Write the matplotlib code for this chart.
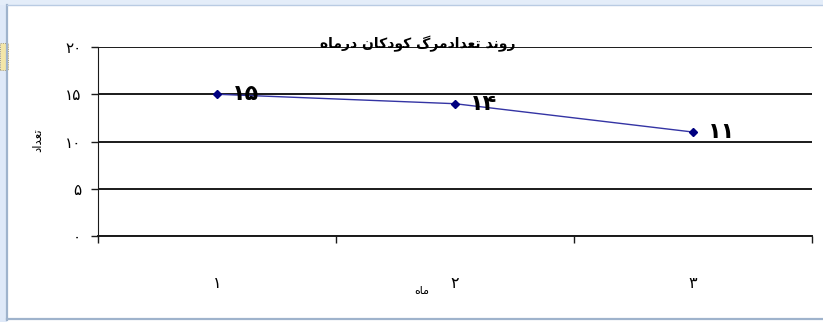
import numpy as np
import matplotlib.pyplot as plt
from matplotlib.patches import Rectangle

months = [1, 2, 3]
deaths = [15, 14, 11]
y_ticks = [0, 5, 10, 15, 20]

title = "روند تعدادمرگ کودکان درماه"
x_label = "ماه"
y_label = "تعداد"

# contextual forms: (isolated, final, initial, medial)
FORMS = {
    'ا': ('\uFE8D', '\uFE8E', None, None),
    'د': ('\uFEA9', '\uFEAA', None, None),
    'ر': ('\uFEAD', '\uFEAE', None, None),
    'و': ('\uFEED', '\uFEEE', None, None),
    'ن': ('\uFEE5', '\uFEE6', '\uFEE7', '\uFEE8'),
    'ت': ('\uFE95', '\uFE96', '\uFE97', '\uFE98'),
    'ع': ('\uFEC9', '\uFECA', '\uFECB', '\uFECC'),
    'م': ('\uFEE1', '\uFEE2', '\uFEE3', '\uFEE4'),
    'ه': ('\uFEE9', '\uFEEA', '\uFEEB', '\uFEEC'),
    'ک': ('\uFB8E', '\uFB8F', '\uFB90', '\uFB91'),
    'گ': ('\uFB92', '\uFB93', '\uFB94', '\uFB95'),
}


def shape(text):
    out = []
    for i, ch in enumerate(text):
        if ch not in FORMS:
            out.append(ch)
            continue
        iso, fin, ini, med = FORMS[ch]
        prev = text[i-1] if i > 0 else ''
        nxt = text[i+1] if i+1 < len(text) else ''
        join_prev = prev in FORMS and FORMS[prev][2] is not None
        join_next = ini is not None and nxt in FORMS
        if join_prev and join_next:
            out.append(med)
        elif join_prev:
            out.append(fin)
        elif join_next:
            out.append(ini)
        else:
            out.append(iso)
    return ''.join(reversed(out))


FA_DIGITS = str.maketrans('0123456789', '۰۱۲۳۴۵۶۷۸۹')


def fa(n):
    return str(n).translate(FA_DIGITS)


plt.rcParams['font.family'] = ['DejaVu Sans']

fig = plt.figure(figsize=(8.23, 3.22), dpi=100)
W, H = 823, 322

# chart frame
fig.patches.append(Rectangle((0, 0), 7/W, 1, transform=fig.transFigure,
                             facecolor='#dfe9f8', edgecolor='none'))
fig.patches.append(Rectangle((0, 1 - 5/H), 1, 5/H, transform=fig.transFigure,
                             facecolor='#e4edf9', edgecolor='none'))
fig.add_artist(plt.Line2D([7.5/W, 7.5/W], [2/H, 1 - 5/H], transform=fig.transFigure,
                          color='#9fb3cc', lw=1.6))
fig.add_artist(plt.Line2D([7.5/W, 1], [3/H, 3/H], transform=fig.transFigure,
                          color='#9fb3cc', lw=1.6))
fig.add_artist(plt.Line2D([7.5/W, 1], [1 - 5/H, 1 - 5/H], transform=fig.transFigure,
                          color='#b9cbe3', lw=1.0))
fig.patches.append(Rectangle((0, 1 - 70/H), 8/W, 27/H, transform=fig.transFigure,
                             facecolor='#f3e6a8', edgecolor='#8c8060', lw=0.6, ls=':'))

ax = fig.add_axes([98/W, 1 - 236/H, 714/W, 189/H])

ax.plot(months, deaths, color='#3434a4', lw=1.0, zorder=3)
ax.plot(months, deaths, ls='none', marker='D', ms=4.5, color='#000080', zorder=4)
for m, d in zip(months, deaths):
    ax.annotate(fa(d), (m, d), xytext=(11, 0), textcoords='offset points',
                ha='left', va='center', fontsize=16, fontweight='bold',
                color='black', zorder=5)

ax.set_xlim(0.5, 3.5)
ax.set_ylim(0, 20)
ax.set_yticks(y_ticks)
ax.set_yticklabels([fa(v) for v in y_ticks], fontsize=11)
ax.set_xticks(np.arange(0.5, 4.0, 1.0))
ax.set_xticklabels([])
ax.set_xticks(months, minor=True)
ax.set_xticklabels([fa(m) for m in months], minor=True, fontsize=11.5)
ax.tick_params(axis='y', length=5, width=1.0, pad=7, color='#1a1a1a')
ax.tick_params(axis='x', which='major', length=5, width=1.0, color='#1a1a1a')
ax.tick_params(axis='x', which='minor', length=0, pad=29)

ax.grid(axis='y', color='#1a1a1a', lw=1.4)
ax.set_axisbelow(True)
for s in ['top', 'right']:
    ax.spines[s].set_visible(False)
ax.spines['left'].set_color('#1a1a1a')
ax.spines['bottom'].set_color('#1a1a1a')
ax.spines['bottom'].set_linewidth(1.4)

fig.text(418/W, 1 - 44/H, shape(title), ha='center', va='center',
         fontsize=10, fontweight='bold')
fig.text(38/W, 1 - 140/H, shape(y_label), ha='center', va='center',
         rotation=90, fontsize=8.5)
fig.text(422/W, 1 - 291/H, shape(x_label), ha='center', va='center', fontsize=8)

plt.savefig('out.png', dpi=100)
